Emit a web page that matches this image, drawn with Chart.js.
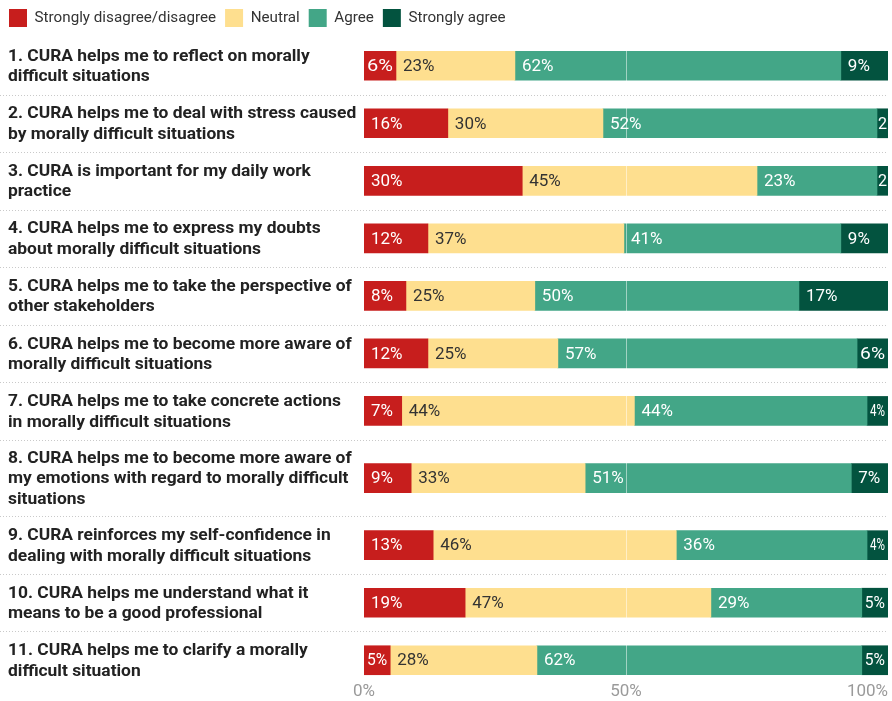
<!DOCTYPE html>
<html>
<head>
<meta charset="utf-8">
<script src="https://cdn.jsdelivr.net/npm/chart.js@4.4.1/dist/chart.umd.min.js"></script>
<style>
  body { margin: 0; background: #fff; }
  #wrap { width: 892px; height: 701px; }
</style>
</head>
<body>
<div id="wrap"><canvas id="likert-chart"></canvas></div>
<script>
// statements, already wrapped like in the picture
const statements = [
  ['1. CURA helps me to reflect on morally', 'difficult situations'],
  ['2. CURA helps me to deal with stress caused', 'by morally difficult situations'],
  ['3. CURA is important for my daily work', 'practice'],
  ['4. CURA helps me to express my doubts', 'about morally difficult situations'],
  ['5. CURA helps me to take the perspective of', 'other stakeholders'],
  ['6. CURA helps me to become more aware of', 'morally difficult situations'],
  ['7. CURA helps me to take concrete actions', 'in morally difficult situations'],
  ['8. CURA helps me to become more aware of', 'my emotions with regard to morally difficult', 'situations'],
  ['9. CURA reinforces my self-confidence in', 'dealing with morally difficult situations'],
  ['10. CURA helps me understand what it', 'means to be a good professional'],
  ['11. CURA helps me to clarify a morally', 'difficult situation']
];

// percentages per answer
const disagree      = [6.1, 16, 30.2, 12.2, 8, 12.2, 7.2, 9, 13.2, 19.3, 5];
const neutral       = [22.7, 29.6, 44.8, 37.4, 24.6, 24.8, 44.4, 33.2, 46.4, 46.9, 28];
const agree         = [62.2, 52.3, 22.9, 41.4, 50.4, 57.1, 44.4, 50.8, 36.4, 28.8, 62];
const stronglyAgree = [9, 2.1, 2.1, 9, 17, 5.9, 4, 7, 4, 5, 5];

const xTicks = [0, 50, 100];

const seriesNames = ['Strongly disagree/disagree', 'Neutral', 'Agree', 'Strongly agree'];
const seriesColors = ['#c71e1d', '#fedf8f', '#43a687', '#03533f'];
const valueColors = ['#ffffff', '#333333', '#ffffff', '#ffffff'];

// rows with 3 lines of text get more room, like the original
const rowEdges = [0];
statements.forEach(s => rowEdges.push(rowEdges[rowEdges.length - 1] + s.length + 1));
const rowCenters = statements.map((s, i) => (rowEdges[i] + rowEdges[i + 1]) / 2);

const rowDecor = {
  id: 'rowDecor',
  beforeDatasetsDraw(chart) {
    const { ctx, chartArea, scales: { y } } = chart;
    ctx.save();
    ctx.strokeStyle = '#c9c9c9';
    ctx.lineWidth = 1;
    ctx.setLineDash([1, 2]);
    for (let i = 1; i < rowEdges.length - 1; i++) {
      const py = Math.round(y.getPixelForValue(rowEdges[i])) + 0.5;
      ctx.beginPath();
      ctx.moveTo(0, py);
      ctx.lineTo(chartArea.right, py);
      ctx.stroke();
    }
    ctx.restore();
  },
  afterDatasetsDraw(chart) {
    const { ctx, chartArea, scales: { x, y } } = chart;
    ctx.save();

    // 50% line over the bars
    const mid = Math.round(x.getPixelForValue(50)) + 0.5;
    ctx.strokeStyle = 'rgba(255,255,255,0.5)';
    ctx.lineWidth = 1;
    ctx.beginPath();
    ctx.moveTo(mid, chartArea.top);
    ctx.lineTo(mid, chartArea.bottom);
    ctx.stroke();

    // values inside the segments
    ctx.textBaseline = 'middle';
    ctx.textAlign = 'left';
    chart.data.datasets.forEach((ds, di) => {
      const meta = chart.getDatasetMeta(di);
      meta.data.forEach((bar, i) => {
        const left = Math.min(bar.x, bar.base);
        const w = Math.abs(bar.x - bar.base);
        const num = Math.round(ds.data[i].x);
        let text = num + '%';
        ctx.font = '17px Roboto';
        let tw = ctx.measureText(text).width;
        let pad = 7, sx = 1;
        if (tw + 2 * pad > w) {
          pad = 3;
          sx = (w - 2 * pad) / tw;
          if (sx < 0.6) {
            text = String(num);
            tw = ctx.measureText(text).width;
            pad = 1;
            sx = Math.min(1, (w - 2) / tw);
          }
        }
        ctx.fillStyle = valueColors[di];
        ctx.save();
        ctx.translate(left + pad, bar.y + 1);
        ctx.scale(sx, 1);
        ctx.fillText(text, 0, 0);
        ctx.restore();
      });
    });

    // statement labels
    ctx.font = 'bold 17.4px Roboto';
    ctx.fillStyle = '#222222';
    statements.forEach((lines, i) => {
      const cy = y.getPixelForValue(rowCenters[i]);
      const first = cy - (lines.length - 1) * 20.5 / 2;
      lines.forEach((line, k) => ctx.fillText(line, 8, first + k * 20.5 + 1));
    });

    // x axis labels
    ctx.font = '17px Roboto';
    ctx.fillStyle = '#9a9a9a';
    xTicks.forEach(t => {
      const label = t + '%';
      const tw = ctx.measureText(label).width;
      let px = x.getPixelForValue(t) - tw / 2;
      px = Math.min(px, chartArea.right - tw);
      ctx.fillText(label, px, chartArea.bottom + 3);
    });

    ctx.restore();
  }
};

Chart.defaults.font.family = 'Roboto';

new Chart(document.getElementById('likert-chart'), {
  type: 'bar',
  data: {
    datasets: [disagree, neutral, agree, stronglyAgree].map((values, si) => ({
      label: seriesNames[si],
      data: values.map((v, i) => ({ x: v, y: rowCenters[i] })),
      backgroundColor: seriesColors[si],
      borderWidth: 0,
      barThickness: 29
    }))
  },
  options: {
    indexAxis: 'y',
    responsive: true,
    maintainAspectRatio: false,
    animation: false,
    layout: { padding: { right: 4, bottom: 12 } },
    scales: {
      x: { type: 'linear', min: 0, max: 100, stacked: true, display: false, offset: false },
      y: {
        type: 'linear',
        min: 0,
        max: rowEdges[rowEdges.length - 1],
        reverse: true,
        stacked: true,
        offset: false,
        ticks: { display: false },
        grid: { display: false },
        border: { display: false },
        afterFit: s => { s.width = 364; }
      }
    },
    plugins: {
      tooltip: { enabled: false },
      legend: {
        position: 'top',
        align: 'start',
        labels: {
          boxWidth: 18,
          boxHeight: 18,
          padding: 9,
          color: '#333333',
          font: { family: 'Roboto', size: 15.2 }
        }
      }
    }
  },
  plugins: [rowDecor]
});
</script>
</body>
</html>
